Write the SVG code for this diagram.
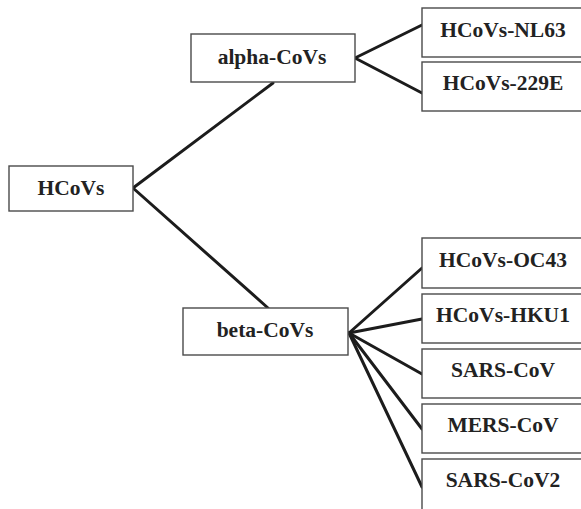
<svg xmlns="http://www.w3.org/2000/svg" width="581" height="509" viewBox="0 0 581 509">
<style>
.box{fill:#fff;stroke:#4a4a4a;stroke-width:1.4}
.lbl{font-family:"Liberation Serif","Times New Roman",serif;font-weight:bold;font-size:21.5px;fill:#222;text-anchor:middle}
.conn{stroke:#1c1c1c;stroke-width:3;fill:none;stroke-linecap:round;stroke-linejoin:round}
</style>
<rect width="581" height="509" fill="#fff"/>
<g id="connectors">
<polyline class="conn" points="273,83 133,188 268,308"/>
<polyline class="conn" points="422,25 355,58 422,93"/>
<line class="conn" x1="349" y1="333" x2="422" y2="268"/>
<line class="conn" x1="349" y1="333" x2="422" y2="319"/>
<line class="conn" x1="349" y1="333" x2="422" y2="374"/>
<line class="conn" x1="349" y1="333" x2="422" y2="429"/>
<line class="conn" x1="349" y1="333" x2="422" y2="487"/>
</g>
<g id="hcovs"><rect class="box" x="9" y="166" width="124" height="45"/><text class="lbl" x="71" y="195">HCoVs</text></g>
<g id="alpha"><rect class="box" x="191" y="34" width="164" height="48"/><text class="lbl" x="272" y="64">alpha-CoVs</text></g>
<g id="beta"><rect class="box" x="183" y="308" width="165" height="47"/><text class="lbl" x="265" y="337">beta-CoVs</text></g>
<g id="nl63"><rect class="box" x="422" y="8" width="162" height="49"/><text class="lbl" x="503" y="37">HCoVs-NL63</text></g>
<g id="e229"><rect class="box" x="422" y="62" width="162" height="49"/><text class="lbl" x="503" y="90">HCoVs-229E</text></g>
<g id="oc43"><rect class="box" x="422" y="238" width="162" height="50"/><text class="lbl" x="503" y="267">HCoVs-OC43</text></g>
<g id="hku1"><rect class="box" x="422" y="294" width="162" height="49"/><text class="lbl" x="503" y="322">HCoVs-HKU1</text></g>
<g id="sarscov"><rect class="box" x="422" y="349" width="162" height="49"/><text class="lbl" x="503" y="377">SARS-CoV</text></g>
<g id="merscov"><rect class="box" x="422" y="404" width="162" height="49"/><text class="lbl" x="503" y="432">MERS-CoV</text></g>
<g id="sarscov2"><rect class="box" x="422" y="459" width="162" height="55"/><text class="lbl" x="503" y="487">SARS-CoV2</text></g>
</svg>
